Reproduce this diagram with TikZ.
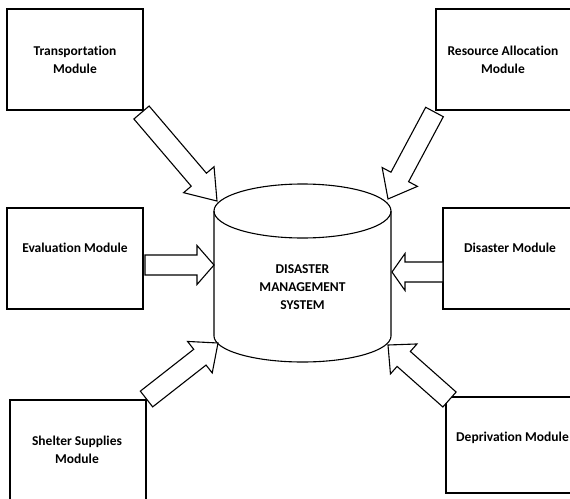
\documentclass[tikz,border=0pt]{standalone}
\usepackage{fontspec}
\setmainfont{Carlito}[Ligatures=NoCommon]
\usetikzlibrary{calc}

\tikzset{
  line/.style={line width=1.1pt, line join=miter},
  modbox/.style={line, draw, rectangle, inner sep=0pt, minimum width=136pt, minimum height=101pt},
  modtext/.style={font=\fontsize{13.5}{18}\selectfont\bfseries, align=center, inner sep=0pt},
  blockarrow/.style={line, draw, fill=white},
}

% block arrow: tail, tip, shaft half-width, head half-width, head length
\newcommand\blockarrow[5]{%
  \coordinate (ba-h) at ($(#2)!#5!(#1)$);
  \draw[blockarrow] ($(#1)!#3!90:(#2)$) -- ($(ba-h)!#3!90:(#2)$)
    -- ($(ba-h)!#4!90:(#2)$) -- (#2) -- ($(ba-h)!#4!-90:(#2)$)
    -- ($(ba-h)!#3!-90:(#2)$) -- ($(#1)!#3!-90:(#2)$) -- cycle;}

\begin{document}
\begin{tikzpicture}[x=1pt, y=-1pt]
  \useasboundingbox (0,0) rectangle (570,498);
  \clip (0,0) rectangle (570,498);

  % module boxes
  \node[modbox] (trans) at (75,59.5) {};
  \node[modbox] (res)   at (504,59.5) {};
  \node[modbox] (eval)  at (75,258.5) {};
  \node[modbox] (dis)   at (511,258.5) {};
  \node[modbox] (shel)  at (78,450.5) {};
  \node[modbox, minimum height=96pt] (dep) at (514,445) {};

  % module labels
  \node[modtext] (transT) at (75,60)  {Transportation\\Module};
  \node[modtext] (resT)   at (503,60) {Resource Allocation\\Module};
  \node[modtext] (evalT)  at (75,248) {Evaluation Module};
  \node[modtext] (disT)   at (510,248) {Disaster Module};
  \node[modtext] (shelT)  at (77,450) {Shelter Supplies\\Module};
  \node[modtext, anchor=west] (depT) at (456,438) {Deprivation Module};

  % central database cylinder
  \draw[line] (214,211) -- (214,336)
    arc[start angle=180, end angle=0, x radius=88.5, y radius=26] -- (391,211);
  \draw[line] (302.5,211) ellipse [x radius=88.5, y radius=27];
  \node[modtext] (dms) at (302.5,287) {DISASTER\\MANAGEMENT\\SYSTEM};

  % arrow end points
  \coordinate (transTail) at (141.5,112.5);
  \coordinate (transTip)  at (217,201);
  \coordinate (resTail)   at (434.5,112);
  \coordinate (resTip)    at (388,199);
  \coordinate (evalTail)  at (145,265);
  \coordinate (evalTip)   at (214,265);
  \coordinate (disTail)   at (443,272);
  \coordinate (disTip)    at (392,272);
  \coordinate (shelTail)  at (146.5,399);
  \coordinate (shelTip)   at (218,343);
  \coordinate (depTail)   at (449.5,399.5);
  \coordinate (depTip)    at (388,345);

  % block arrows into the system
  \blockarrow{transTail}{transTip}{10pt}{20pt}{28pt}
  \blockarrow{resTail}{resTip}{10pt}{20pt}{25pt}
  \blockarrow{evalTail}{evalTip}{10pt}{19.5pt}{17pt}
  \blockarrow{disTail}{disTip}{10pt}{18.5pt}{13pt}
  \blockarrow{shelTail}{shelTip}{10pt}{20pt}{23pt}
  \blockarrow{depTail}{depTip}{10pt}{20pt}{21pt}
\end{tikzpicture}
\end{document}
